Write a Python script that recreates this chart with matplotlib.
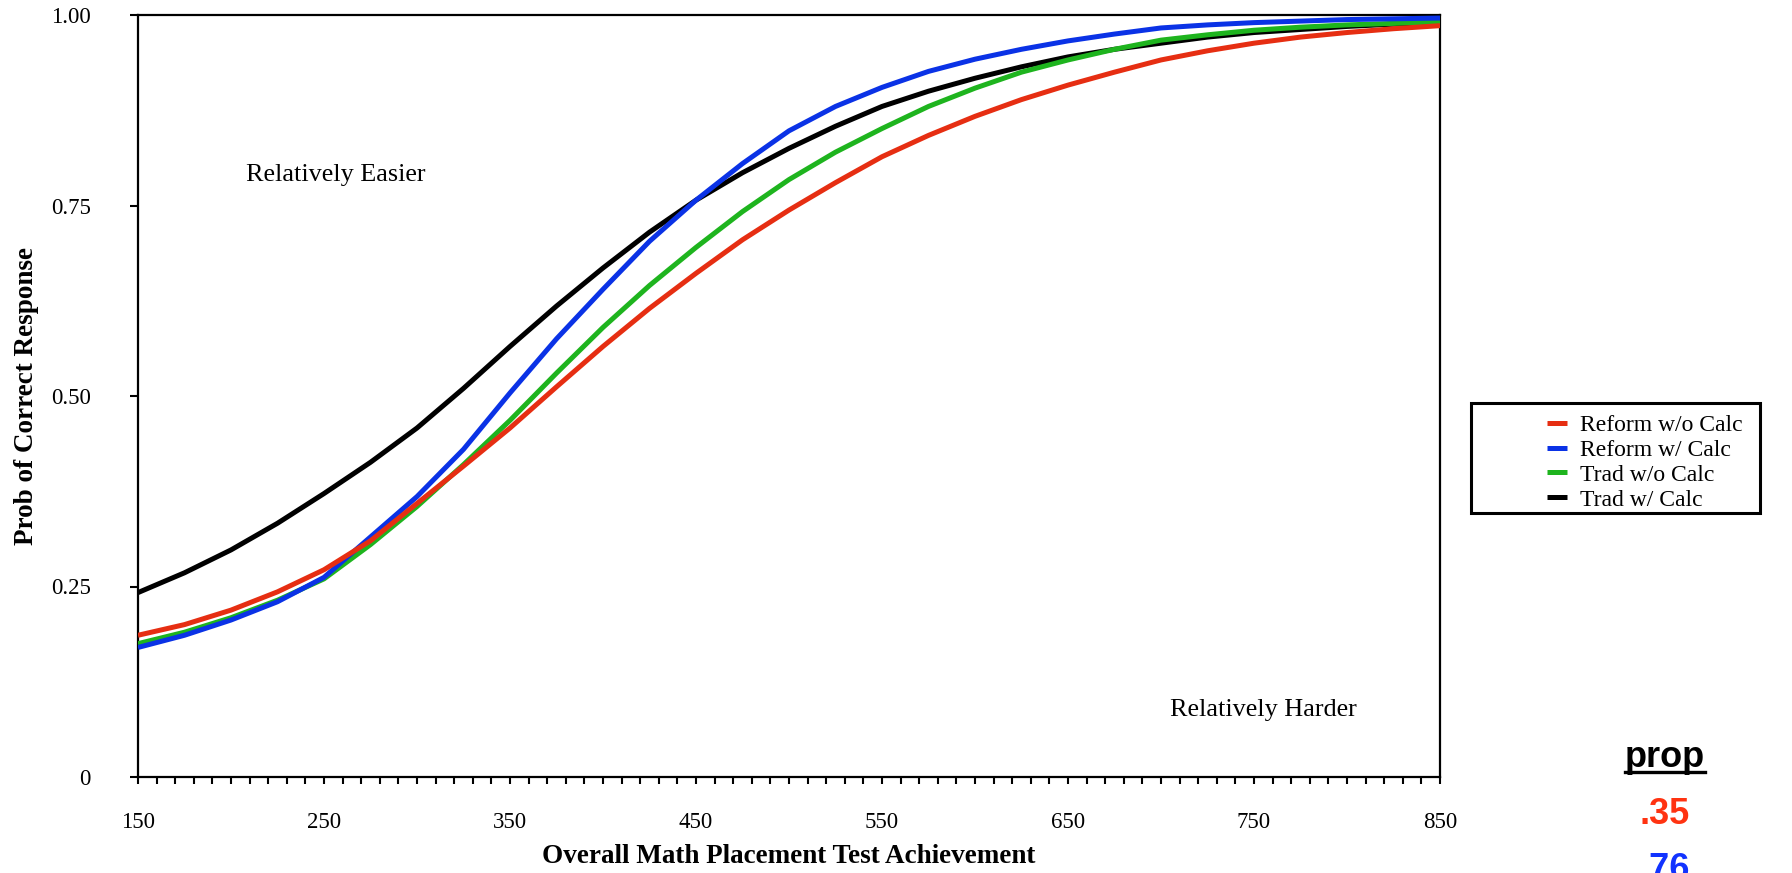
import matplotlib
matplotlib.use('Agg')
import matplotlib.pyplot as plt
from matplotlib.ticker import MultipleLocator, FixedLocator
from matplotlib.patches import Rectangle
from matplotlib.lines import Line2D

plt.rcParams['font.family'] = ['Liberation Serif', 'DejaVu Serif']

# placement test score
score = [150, 175, 200, 225, 250, 275, 300, 325, 350, 375, 400, 425, 450, 475, 500,
         525, 550, 575, 600, 625, 650, 675, 700, 725, 750, 775, 800, 825, 850]

# probability of a correct response for each group
reform_no_calc = [.186, .200, .219, .243, .272, .310, .359, .408, .458, .512, .565, .615, .661, .705, .744,
                  .780, .814, .842, .867, .889, .908, .925, .941, .953, .963, .971, .977, .982, .986]
reform_calc = [.170, .186, .206, .230, .262, .315, .368, .430, .504, .575, .640, .703, .757, .805, .848,
               .880, .905, .926, .942, .955, .966, .975, .983, .987, .990, .992, .994, .995, .996]
trad_no_calc = [.175, .190, .209, .232, .260, .305, .355, .410, .468, .530, .590, .645, .695, .742, .784,
                .820, .851, .880, .904, .925, .941, .955, .967, .974, .980, .984, .987, .989, .991]
trad_calc = [.242, .268, .298, .333, .372, .413, .458, .510, .565, .618, .668, .715, .757, .793, .825,
             .854, .880, .900, .917, .932, .945, .955, .963, .971, .977, .981, .985, .988, .990]

labels = ['Reform w/o Calc', 'Reform w/ Calc', 'Trad w/o Calc', 'Trad w/ Calc']
colors = ['#E62E12', '#0A32E6', '#1EB41E', '#000000']
layer = [5, 4, 3, 2]

prop_values = ['.35', '.76']
prop_colors = ['#FF3311', '#1133FF']

W, H = 1792, 873
fig = plt.figure(figsize=(W / 100, H / 100), dpi=100)
ax = fig.add_axes([138 / W, 1 - 777 / H, (1440 - 138) / W, (777 - 15) / H])

series = [reform_no_calc, reform_calc, trad_no_calc, trad_calc]
for vals, lab, col, z in zip(series, labels, colors, layer):
    ax.plot(score, vals, color=col, lw=3.6, label=lab, zorder=z,
            solid_joinstyle='round', solid_capstyle='butt')

ax.set_xlim(150, 850)
ax.set_ylim(0, 1)
for s in ax.spines.values():
    s.set_linewidth(1.6)

ax.xaxis.set_major_locator(FixedLocator(range(150, 851, 100)))
ax.xaxis.set_minor_locator(MultipleLocator(10))
ax.yaxis.set_major_locator(FixedLocator([0, .25, .5, .75, 1.0]))
ax.set_yticklabels(['0', '0.25', '0.50', '0.75', '1.00'])
ax.tick_params(axis='x', which='both', direction='out', length=5, width=1.5,
               labelsize=16.5, pad=20)
ax.tick_params(axis='y', which='major', direction='out', length=6, width=1.5,
               labelsize=16.5, pad=28)

ax.set_xlabel('Overall Math Placement Test Achievement', fontsize=19.5, fontweight='bold')
ax.xaxis.set_label_coords(0.5, -0.088)
ax.set_ylabel('Prob of Correct Response', fontsize=19.5, fontweight='bold')
ax.yaxis.set_label_coords(-0.076, 0.5)

ax.text(208, 0.79, 'Relatively Easier', fontsize=18.8, va='center', ha='left')
ax.text(705, 0.088, 'Relatively Harder', fontsize=18.8, va='center', ha='left')

# legend sits in its own box to the right of the plot
fig.patches.append(Rectangle((1471 / W, 1 - 513 / H), (1760 - 1471) / W, (513 - 403) / H,
                             transform=fig.transFigure, fill=False, ec='black', lw=2.2))
ax.legend(loc='upper left', bbox_to_anchor=(1530 / W, 1 - 398 / H),
          bbox_transform=fig.transFigure, frameon=False, fontsize=17,
          handlelength=0.85, handletextpad=0.55, labelspacing=0.14, borderpad=0.2)

# proportion column
t = fig.text(1665 / W, 1 - 767 / H, 'prop', fontsize=26, fontweight='bold',
             family='Liberation Sans', ha='center', va='baseline')
for i, (v, c) in enumerate(zip(prop_values, prop_colors)):
    fig.text(1665 / W, 1 - (824 + 55 * i) / H, v, fontsize=26, fontweight='bold',
             family='Liberation Sans', color=c, ha='center', va='baseline')

fig.canvas.draw()
bb = t.get_window_extent().transformed(fig.transFigure.inverted())
fig.lines.append(Line2D([bb.x0, bb.x1], [1 - 772 / H] * 2, transform=fig.transFigure,
                        color='black', lw=2.4))

fig.savefig('out.png', dpi=100)
